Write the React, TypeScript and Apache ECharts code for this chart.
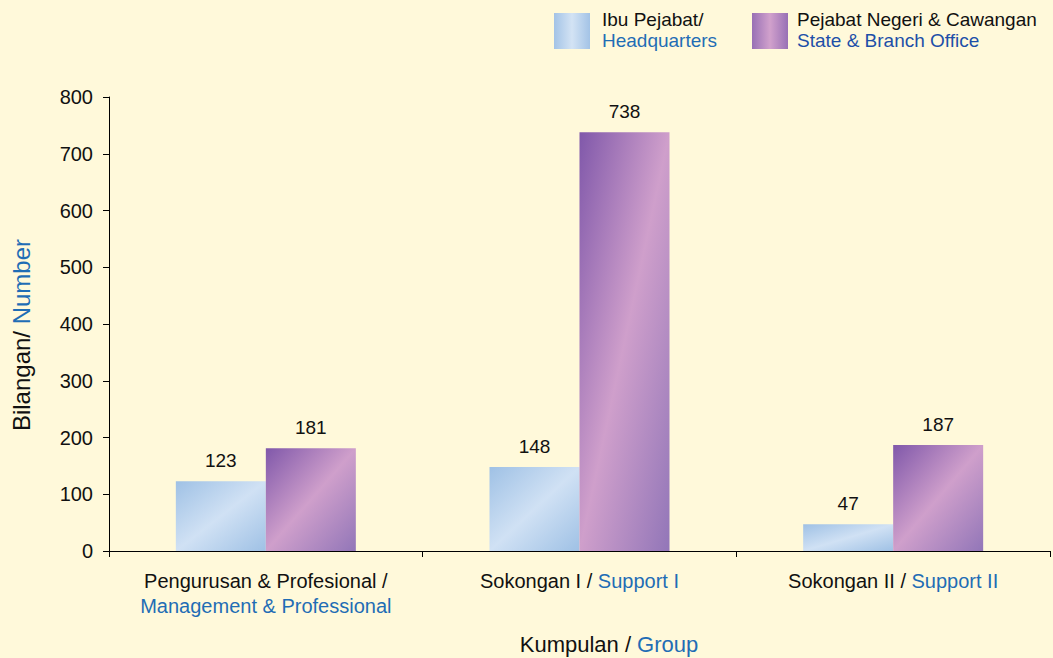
import React, { useEffect, useRef } from "react";
import * as echarts from "echarts";

const categoriesMs = ["Pengurusan & Profesional /", "Sokongan I /", "Sokongan II /"];
const categoriesEn = ["Management & Professional", "Support I", "Support II"];
const hqValues = [123, 148, 47];
const stateValues = [181, 738, 187];
const yTicks = [0, 100, 200, 300, 400, 500, 600, 700, 800];

const BLUE = "#1f6db5";
const BLACK = "#111111";
const SANS = "'Liberation Sans', Arial, sans-serif";

const hqGrad = () =>
  new echarts.graphic.LinearGradient(0, 0, 1, 1, [
    { offset: 0, color: "#9fc1e5" },
    { offset: 0.5, color: "#d0e1f4" },
    { offset: 1, color: "#9fc1e5" },
  ]);
const stGrad = () =>
  new echarts.graphic.LinearGradient(0, 0, 1, 1, [
    { offset: 0, color: "#8058aa" },
    { offset: 0.5, color: "#cf9fcb" },
    { offset: 1, color: "#9276b8" },
  ]);

export default function App() {
  const ref = useRef<HTMLDivElement>(null);
  useEffect(() => {
    document.body.style.margin = "0";
    const chart = echarts.init(ref.current!, null, { renderer: "svg" });
    const labels = categoriesMs.map((m, i) =>
      i === 0 ? `{a|${m}}\n{b|${categoriesEn[i]}}` : `{a|${m}} {b|${categoriesEn[i]}}`
    );
    const valLabel = { show: true, position: "top", distance: 11, color: BLACK, fontSize: 19, fontFamily: SANS };
    chart.setOption({
      animation: false,
      backgroundColor: "#fff9da",
      grid: { left: 109, right: 3, top: 97, bottom: 107 },
      xAxis: {
        type: "category",
        data: labels,
        axisLine: { lineStyle: { color: "#000", width: 1 } },
        axisTick: { show: true, length: 6, lineStyle: { color: "#000" } },
        axisLabel: {
          interval: 0,
          margin: 17,
          fontSize: 20,
          fontFamily: SANS,
          lineHeight: 25,
          rich: {
            a: { color: BLACK, fontSize: 20, fontFamily: SANS, lineHeight: 25 },
            b: { color: BLUE, fontSize: 20, fontFamily: SANS, lineHeight: 25 },
          },
        },
      },
      yAxis: {
        type: "value",
        min: yTicks[0],
        max: yTicks[yTicks.length - 1],
        interval: 100,
        splitLine: { show: false },
        axisLine: { show: true, lineStyle: { color: "#000", width: 1 } },
        axisTick: { show: true, length: 6, lineStyle: { color: "#000" } },
        axisLabel: { color: BLACK, fontSize: 20, fontFamily: SANS, margin: 16 },
      },
      series: [
        {
          name: "Ibu Pejabat/ Headquarters",
          type: "bar",
          data: hqValues,
          barWidth: 90,
          barGap: "0%",
          itemStyle: { color: hqGrad() },
          label: valLabel,
        },
        {
          name: "Pejabat Negeri & Cawangan State & Branch Office",
          type: "bar",
          data: stateValues,
          barWidth: 90,
          barGap: "0%",
          itemStyle: { color: stGrad() },
          label: valLabel,
        },
      ],
      graphic: [
        { type: "rect", shape: { x: 554, y: 13, width: 36, height: 36 }, style: { fill: new echarts.graphic.LinearGradient(0, 0, 1, 0, [
          { offset: 0, color: "#a3c3e6" }, { offset: 0.5, color: "#d3e3f4" }, { offset: 1, color: "#a3c3e6" }]) } },
        { type: "text", x: 602, y: 10, style: { text: "Ibu Pejabat/", fill: BLACK, fontSize: 19, fontFamily: SANS } },
        { type: "text", x: 602, y: 31, style: { text: "Headquarters", fill: BLUE, fontSize: 19, fontFamily: SANS } },
        { type: "rect", shape: { x: 752, y: 13, width: 36, height: 36 }, style: { fill: new echarts.graphic.LinearGradient(0, 0, 1, 0, [
          { offset: 0, color: "#9870b5" }, { offset: 0.5, color: "#d1a1cc" }, { offset: 1, color: "#9870b5" }]) } },
        { type: "text", x: 797, y: 10, style: { text: "Pejabat Negeri & Cawangan", fill: BLACK, fontSize: 19, fontFamily: SANS } },
        { type: "text", x: 797, y: 31, style: { text: "State & Branch Office", fill: "#1d4fa8", fontSize: 19, fontFamily: SANS } },
        {
          type: "text",
          x: 21,
          y: 335,
          rotation: Math.PI / 2,
          style: {
            text: "{a|Bilangan/ }{b|Number}",
            align: "center",
            verticalAlign: "middle",
            rich: {
              a: { fill: BLACK, fontSize: 24, fontFamily: SANS },
              b: { fill: BLUE, fontSize: 24, fontFamily: SANS },
            },
          },
        },
        {
          type: "text",
          x: 609,
          y: 644,
          style: {
            text: "{a|Kumpulan / }{b|Group}",
            align: "center",
            verticalAlign: "middle",
            rich: {
              a: { fill: BLACK, fontSize: 22, fontFamily: SANS },
              b: { fill: BLUE, fontSize: 22, fontFamily: SANS },
            },
          },
        },
      ],
    });
    return () => chart.dispose();
  }, []);
  return <div ref={ref} style={{ width: 1053, height: 658, position: "absolute", left: 0, top: 0 }} />;
}
